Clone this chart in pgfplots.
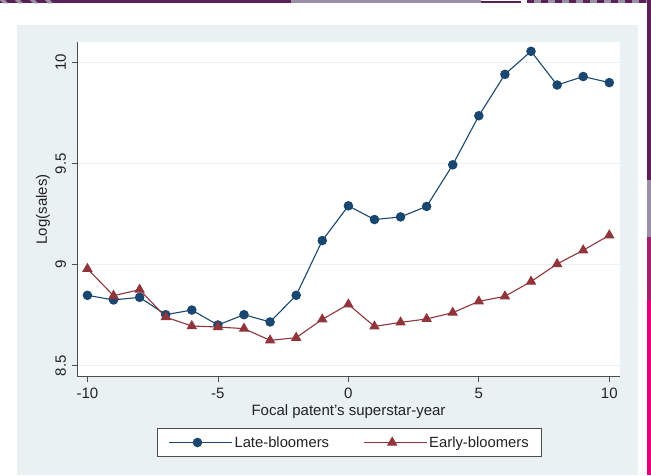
\documentclass[border=0pt]{standalone}
\usepackage{fontspec}
\setmainfont{Liberation Sans}
\usepackage{pgfplots}
\pgfplotsset{compat=1.18}
\definecolor{panel}{HTML}{EAF1F3}
\definecolor{navy}{HTML}{1A476F}
\definecolor{maroon}{HTML}{90353B}
\definecolor{purp}{HTML}{5C2058}
\definecolor{lav}{HTML}{9A8FA6}
\definecolor{mag}{HTML}{A3206C}
\definecolor{pink}{HTML}{E5007D}
\definecolor{axgray}{HTML}{4D4D4D}
\definecolor{txt}{HTML}{222222}
\begin{document}
\begin{tikzpicture}
\useasboundingbox (0pt,0pt) rectangle (651pt,475pt);
\fill[white] (0pt,0pt) rectangle (651pt,475pt);
\fill[panel] (16.6pt,0pt) rectangle (638pt,450pt);
% top bar decoration
\fill[purp] (0pt,471.7pt) rectangle (291pt,475pt);
\foreach \i in {0,1,2,3} {\fill[lav] ({\i*15pt},475pt) -- ({\i*15pt+5pt},475pt) -- ({\i*15pt+8pt},471.7pt) -- ({\i*15pt+3pt},471.7pt) -- cycle;}
\fill[lav] (291pt,471.7pt) rectangle (481pt,475pt);
\fill[purp] (481pt,471.7pt) rectangle (521pt,474pt);
\foreach \i in {0,...,8} {\fill[purp] ({527pt+\i*14pt},471.7pt) rectangle ({534pt+\i*14pt},475pt); \fill[lav] ({534pt+\i*14pt},471.7pt) rectangle ({541pt+\i*14pt},475pt);}
% right strip decoration
\fill[purp] (647pt,295pt) rectangle (651pt,475pt);
\fill[lav] (647pt,238pt) rectangle (651pt,295pt);
\fill[mag] (647pt,175pt) rectangle (651pt,238pt);
\fill[pink] (647pt,0pt) rectangle (651pt,175pt);
\begin{axis}[
  at={(77pt,98.3pt)}, anchor=south west,
  scale only axis, width=543pt, height=334.7pt,
  xmin=-10.4, xmax=10.41, ymin=8.445, ymax=10.102,
  axis x line*=bottom, axis y line*=left,
  axis line style={-, draw=axgray, line width=0.8pt},
  axis background/.style={fill=white},
  xtick={-10,-5,0,5,10}, xticklabels={-10,-5,0,5,10},
  ytick={8.5,9,9.5,10}, yticklabels={8.5,9,9.5,10},
  tick align=outside, major tick length=5pt,
  tick style={draw=axgray, line width=0.8pt},
  ymajorgrids, grid style={draw=panel, line width=1.2pt},
  ticklabel style={font=\fontsize{15}{18}\selectfont, text=txt},
  xticklabel style={yshift=-2.5pt},
  yticklabel style={rotate=90, anchor=south, yshift=2.5pt},
  every axis x label/.style={at={(axis description cs:0.5,-0.1046)}, anchor=center, font=\fontsize{15}{18}\selectfont, text=txt},
  every axis y label/.style={at={(axis description cs:-0.0626,0.5)}, rotate=90, anchor=center, font=\fontsize{15}{18}\selectfont, text=txt},
  xlabel={Focal patent's superstar-year},
  ylabel={Log(sales)},
  legend columns=2,
  legend cell align=left,
  legend image code/.code={\draw[mark repeat=2,mark phase=2,#1] plot coordinates {(0pt,0pt) (28.5pt,0pt) (57pt,0pt)}; \path (57pt,0pt) -- (63pt,0pt);},
  legend style={at={(0.502,-0.1966)}, anchor=center, draw=axgray, line width=0.9pt, fill=white,
    font=\fontsize{14.8}{17}\selectfont, text=txt, inner xsep=11pt, inner ysep=5.5pt,
    nodes={inner sep=2pt},
    /tikz/every even column/.append style={column sep=32pt}},
]
\addplot[color=navy, line width=1.1pt, mark=*, mark size=4.2pt, mark options={solid, fill=navy, draw=navy}]
coordinates {(-10,8.848) (-9,8.825) (-8,8.838) (-7,8.752) (-6,8.775) (-5,8.701) (-4,8.752) (-3,8.716) (-2,8.848) (-1,9.119) (0,9.291) (1,9.223) (2,9.236) (3,9.288) (4,9.494) (5,9.737) (6,9.942) (7,10.056) (8,9.889) (9,9.931) (10,9.901)};
\addlegendentry{Late-bloomers}
\addplot[color=maroon, line width=1.1pt, mark=triangle*, mark size=5pt, mark options={solid, fill=maroon, draw=maroon}]
coordinates {(-10,8.979) (-9,8.846) (-8,8.876) (-7,8.740) (-6,8.696) (-5,8.691) (-4,8.683) (-3,8.625) (-2,8.638) (-1,8.729) (0,8.803) (1,8.694) (2,8.714) (3,8.731) (4,8.762) (5,8.818) (6,8.843) (7,8.916) (8,9.003) (9,9.071) (10,9.145)};
\addlegendentry{Early-bloomers}
\end{axis}
\end{tikzpicture}
\end{document}
